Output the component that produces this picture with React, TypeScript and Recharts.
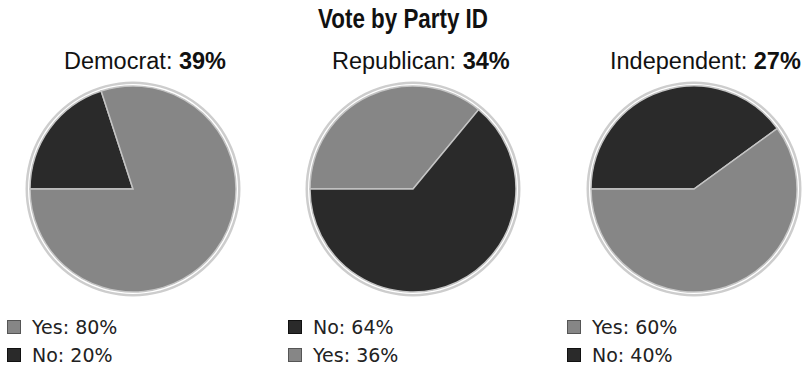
import { PieChart, Pie, Cell } from "recharts";

// values
const PARTIES = ["Democrat", "Republican", "Independent"];
const PARTY_SHARE = [39, 34, 27];
const YES_SHARE = [80, 36, 60];
const NO_SHARE = [20, 64, 40];

const GRAY = "#868686";
const DARK = "#2a2a2a";

// layout
const W = 806;
const H = 370;
const CX = [133, 413, 694];
const CY = 189;
const R = 103;
const SUB_X = [64, 332, 610];
const LEG_X = [7, 288, 567];

const slicesFor = (i: number) => [
  { name: "Yes", value: YES_SHARE[i], fill: GRAY, border: "#555" },
  { name: "No", value: NO_SHARE[i], fill: DARK, border: "#111" },
];

export default function App() {
  return (
    <div style={{ position: "absolute", left: 0, top: 0, width: W, height: H, background: "#fff" }}>
      <PieChart width={W} height={H} margin={{ top: 0, right: 0, bottom: 0, left: 0 }}>
        {PARTIES.map((_, i) => (
          <Pie
            key={"ring" + i}
            data={[{ name: "ring", value: 1 }]}
            dataKey="value"
            cx={CX[i]}
            cy={CY}
            innerRadius={R + 2}
            outerRadius={R + 4.5}
            fill="#cdcdcd"
            stroke="none"
            isAnimationActive={false}
          />
        ))}
        {PARTIES.map((_, i) => {
          // smaller slice starts at 9 o'clock, going clockwise
          const data = slicesFor(i).sort((a, b) => a.value - b.value);
          return (
            <Pie
              key={"pie" + i}
              data={data}
              dataKey="value"
              nameKey="name"
              cx={CX[i]}
              cy={CY}
              outerRadius={R}
              startAngle={180}
              endAngle={-180}
              stroke="#c4c4c4"
              strokeWidth={1.5}
              isAnimationActive={false}
            >
              {data.map((d) => (
                <Cell key={d.name} fill={d.fill} />
              ))}
            </Pie>
          );
        })}

        <text
          x={403}
          y={28}
          textAnchor="middle"
          fontFamily="Liberation Sans, Arial, sans-serif"
          fontWeight="bold"
          fontSize={27}
          fill="#111"
          textLength={170}
          lengthAdjust="spacingAndGlyphs"
        >
          Vote by Party ID
        </text>

        {PARTIES.map((p, i) => (
          <text
            key={"sub" + i}
            x={SUB_X[i]}
            y={69}
            fontFamily="Liberation Sans, Arial, sans-serif"
            fontSize={23.5}
            fill="#111"
          >
            {p}:{" "}
            <tspan fontWeight="bold">{PARTY_SHARE[i]}%</tspan>
          </text>
        ))}

        {PARTIES.map((_, i) => {
          const items = slicesFor(i).sort((a, b) => b.value - a.value);
          return (
            <g key={"leg" + i}>
              {items.map((d, j) => (
                <g key={d.name}>
                  <rect
                    x={LEG_X[i] + 0.5}
                    y={320.5 + j * 28}
                    width={13}
                    height={13}
                    fill={d.fill}
                    stroke={d.border}
                    strokeWidth={1}
                  />
                  <text
                    x={LEG_X[i] + 25}
                    y={334 + j * 28}
                    fontFamily="DejaVu Sans, Verdana, sans-serif"
                    fontSize={19}
                    fill="#222"
                  >
                    {d.name}: {d.value}%
                  </text>
                </g>
              ))}
            </g>
          );
        })}
      </PieChart>
    </div>
  );
}
